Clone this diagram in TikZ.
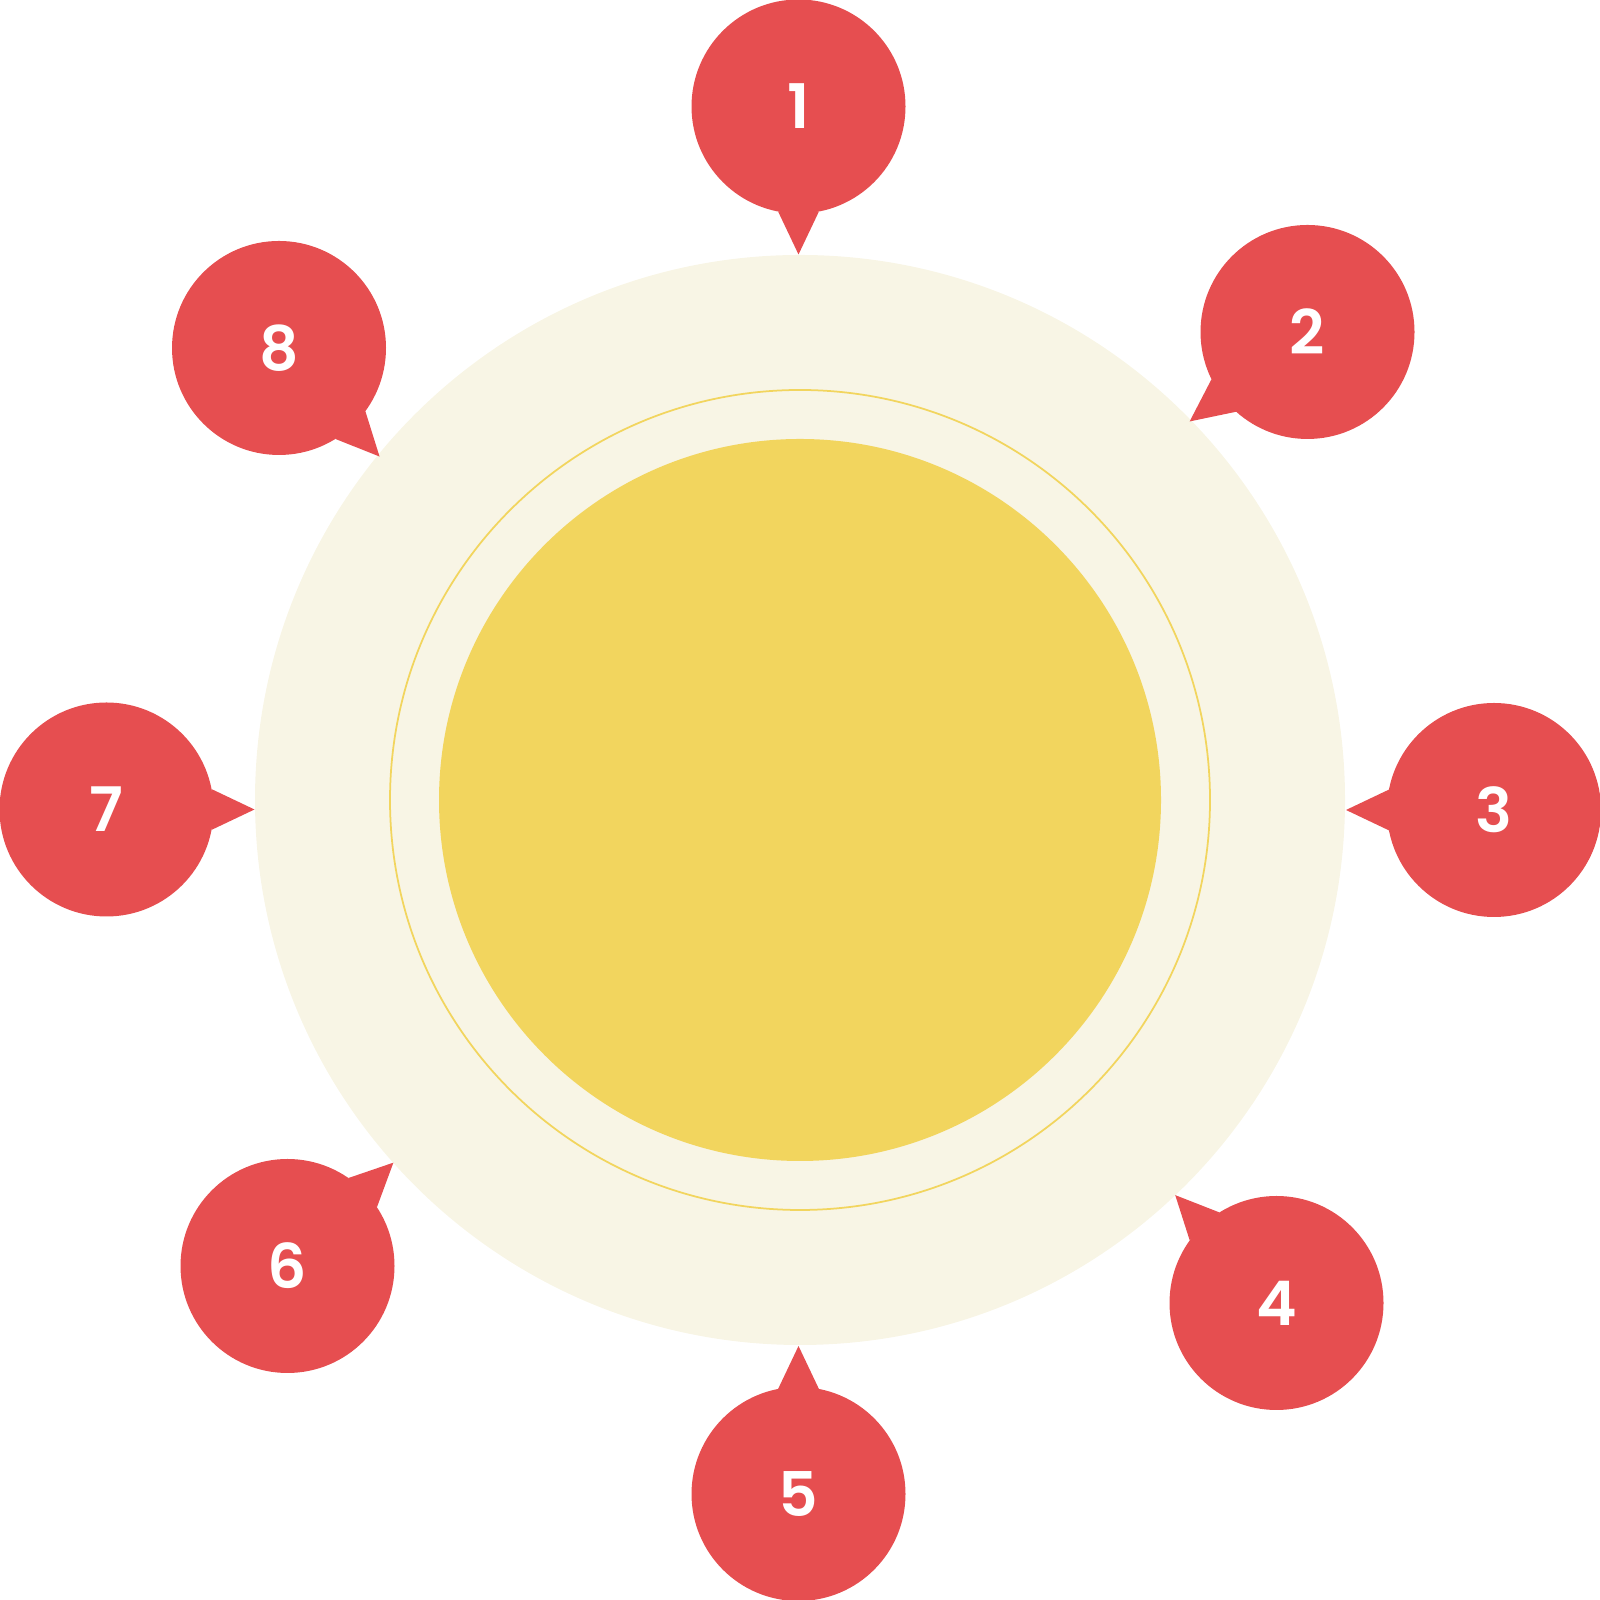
\documentclass[tikz,border=0pt]{standalone}
\usepackage[rgb]{xcolor}
\usepackage{tikz}
\usepackage{fontspec}
\setmainfont{Poppins}[UprightFont=* SemiBold]
\usetikzlibrary{calc}

\definecolor{bubblered}{HTML}{E64E50}
\definecolor{paleback}{HTML}{F8F5E5}
\definecolor{sunyellow}{HTML}{F2D55E}

\begin{document}
\begin{tikzpicture}[scale=1,
 bubble/.style={circle, fill=bubblered, minimum size=2.14cm, inner sep=0pt, text=white, font=\fontsize{17.5}{20}\selectfont}]
\useasboundingbox (0,0) rectangle (16,16);

% discs in the middle
\path
(8,8) coordinate (mid);
\fill[paleback] (mid) circle (5.45);
\draw[sunyellow, line width=0.5pt] (mid) circle (4.10);
\fill[sunyellow] (mid) circle (3.61);

%% numbered bubbles, each with a pointer towards the discs
\foreach \n/\x/\y/\d in {1/7.985/14.935/-90, 2/13.075/12.68/217.2, 3/14.94/7.90/180, 4/12.765/2.97/133.2,
 5/7.985/1.06/90, 6/2.875/3.34/44.3, 7/1.065/7.905/0, 8/2.79/12.52/-47.2}
{
\node[bubble] (b\n) at (\x,\y) {\n};
\path (b\n.center) ++(\d:1.48) coordinate (t\n);
\fill[bubblered] (t\n) -- ($(b\n.center)+(\d+11:1.07)$) -- ($(b\n.center)+(\d-11:1.07)$) -- cycle;
}

\end{tikzpicture}
\end{document}
